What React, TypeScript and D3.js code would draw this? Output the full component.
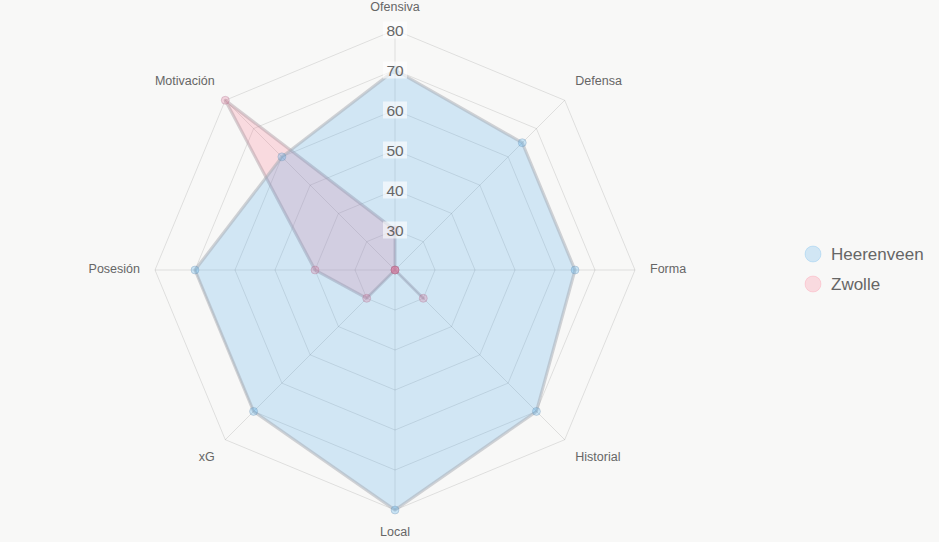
import { useMemo } from 'react'
import * as d3 from 'd3'

const AXES = ['Ofensiva', 'Defensa', 'Forma', 'Historial', 'Local', 'xG', 'Posesión', 'Motivación']
const HEERENVEEN = [70, 65, 65, 70, 80, 70, 70, 60]
const ZWOLLE = [30, 20, 20, 30, 20, 30, 40, 80]
const TICKS = [30, 40, 50, 60, 70, 80]
const SERIES = [
  { name: 'Heerenveen', values: HEERENVEEN, fill: 'rgba(54,162,235,0.2)', stroke: 'rgba(165,170,178,0.5)', dot: 'rgba(54,162,235,0.25)', dotStroke: 'rgba(110,140,170,0.3)' },
  { name: 'Zwolle', values: ZWOLLE, fill: 'rgba(255,99,132,0.2)', stroke: 'rgba(170,150,160,0.45)', dot: 'rgba(220,100,140,0.25)', dotStroke: 'rgba(170,110,140,0.3)' },
]

const W = 939, H = 542
const CX = 395, CY = 270

export default function App(): JSX.Element {
  const r = useMemo(() => d3.scaleLinear().domain([20, 80]).range([0, 240]), [])
  const angle = (i: number) => (i * 2 * Math.PI) / AXES.length
  const pt = (i: number, v: number): [number, number] => {
    const rad = r(v)
    return [CX + rad * Math.sin(angle(i)), CY - rad * Math.cos(angle(i))]
  }

  const line = d3.line<[number, number]>().curve(d3.curveLinearClosed)
  const labelR = 255

  return (
    <div style={{ position: 'fixed', left: 0, top: 0, width: W, height: H, background: '#f8f8f7' }}>
      <svg width={W} height={H} style={{ display: 'block', fontFamily: 'Liberation Sans, Arial, sans-serif' }}>
        {/* grid rings */}
        {TICKS.map(t => (
          <path key={t} d={line(AXES.map((_, i) => pt(i, t))) || ''} fill="none" stroke="rgba(0,0,0,0.1)" strokeWidth={1} />
        ))}
        {/* angle lines */}
        {AXES.map((_, i) => {
          const [x, y] = pt(i, 80)
          return <line key={i} x1={CX} y1={CY} x2={x} y2={y} stroke="rgba(0,0,0,0.1)" strokeWidth={1} />
        })}
        {/* datasets, last one drawn first */}
        {[...SERIES].reverse().map(s => (
          <path key={s.name} d={line(s.values.map((v, i) => pt(i, v))) || ''} fill={s.fill} stroke={s.stroke} strokeWidth={3} strokeLinejoin="round" />
        ))}
        {[...SERIES].reverse().map(s => (
          <g key={s.name + '-pts'}>
            {s.values.map((v, i) => {
              const [x, y] = pt(i, v)
              return <circle key={i} cx={x} cy={y} r={4} fill={s.dot} stroke={s.dotStroke} strokeWidth={1} />
            })}
          </g>
        ))}
        {/* tick labels */}
        {TICKS.map(t => {
          const y = CY - r(t)
          return (
            <g key={t}>
              <rect x={CX - 12} y={y - 8.5} width={24} height={17} fill="rgba(255,255,255,0.6)" />
              <text x={CX} y={y} textAnchor="middle" dominantBaseline="central" fontSize={15.5} fill="#666">{t}</text>
            </g>
          )
        })}
        {/* point labels */}
        {AXES.map((a, i) => {
          const deg = (i * 360) / AXES.length
          const x = CX + labelR * Math.sin(angle(i))
          let y = CY - labelR * Math.cos(angle(i))
          const anchor = deg === 0 || deg === 180 ? 'middle' : deg < 180 ? 'start' : 'end'
          if (deg === 90 || deg === 270) y -= 1
          else if (deg < 90 || deg > 270) y -= 8.5
          else y += 6.5
          return (
            <text key={a} x={x} y={y} textAnchor={anchor} dominantBaseline="central" fontSize={12.5} fill="#666">{a}</text>
          )
        })}
        {/* legend */}
        {SERIES.map((s, i) => (
          <g key={s.name} transform={`translate(813,${254 + i * 30})`}>
            <circle r={8} fill={s.fill} stroke={s.fill} strokeWidth={1} />
            <text x={18} y={0} dominantBaseline="central" fontSize={17} fill="#666">{s.name}</text>
          </g>
        ))}
      </svg>
    </div>
  )
}
